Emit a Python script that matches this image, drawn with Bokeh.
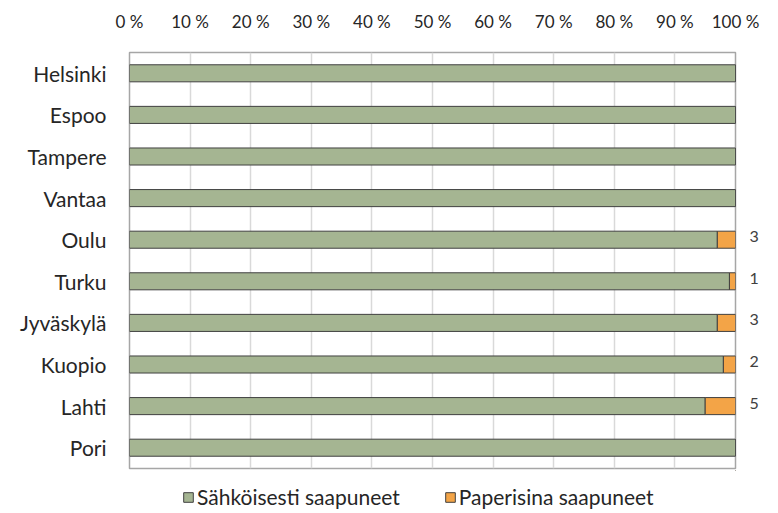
from bokeh.plotting import figure
from bokeh.layouts import column
from bokeh.models import (Range1d, FixedTicker, Legend, LegendItem,
                          ColumnDataSource, LinearAxis)
from bokeh.embed import file_html
from bokeh.resources import INLINE

cities = ["Helsinki", "Espoo", "Tampere", "Vantaa", "Oulu", "Turku", "Jyväskylä", "Kuopio", "Lahti", "Pori"]
electronic = [100, 100, 100, 100, 97, 99, 97, 98, 95, 100]
paper = [0, 0, 0, 0, 3, 1, 3, 2, 5, 0]
ticks = [0, 10, 20, 30, 40, 50, 60, 70, 80, 90, 100]
tick_labels = [f"{t} %" for t in ticks]
series_names = ["Sähköisesti saapuneet", "Paperisina saapuneet"]

GREEN = "#a5b592"
ORANGE = "#f3a447"
EDGE = "#404040"
TEXT = "#262626"
FONT = "Lato"

n = len(cities)
ypos = [n - i - 0.5 for i in range(n)]  # first city on top
src = ColumnDataSource(dict(y=ypos, city=cities, electronic=electronic, paper=paper,
                            total=[e + q for e, q in zip(electronic, paper)]))

p = figure(width=778, height=470, output_backend="svg", toolbar_location=None,
           y_range=Range1d(0, n), x_range=Range1d(0, 100), x_axis_location="above",
           y_axis_location="left",
           min_border_left=129, min_border_right=43, min_border_top=52, min_border_bottom=2)

r1 = p.hbar(y="y", left=0, right="electronic", height=0.41, source=src,
            fill_color=GREEN, line_color=EDGE, line_width=1)
r2 = p.hbar(y="y", left="electronic", right="total", height=0.41, source=src,
            fill_color=ORANGE, line_color=EDGE, line_width=1)

# category labels on the left axis
ax = p.yaxis[0]
ax.ticker = FixedTicker(ticks=ypos)
ax.major_label_overrides = {t: c for t, c in zip(ypos, cities)}
ax.axis_line_color = None
ax.major_tick_line_color = None
ax.minor_tick_line_color = None
ax.major_label_standoff = 17
ax.major_label_text_font = FONT
ax.major_label_text_font_size = "21px"
ax.major_label_text_color = TEXT

# data labels for the paper share on a right-hand axis
lab_pos = [round(y + 0.07, 2) for y, q in zip(ypos, paper) if q > 0]
lab_txt = [str(q) for q in paper if q > 0]
right_axis = LinearAxis(ticker=FixedTicker(ticks=lab_pos),
                        major_label_overrides={t: s for t, s in zip(lab_pos, lab_txt)},
                        axis_line_color=None, major_tick_line_color=None,
                        minor_tick_line_color=None, major_label_standoff=8,
                        major_label_text_font=FONT, major_label_text_font_size="16px",
                        major_label_text_color=EDGE)
p.add_layout(right_axis, "right")

p.xaxis.ticker = FixedTicker(ticks=ticks)
p.xaxis.major_label_overrides = {t: l for t, l in zip(ticks, tick_labels)}
p.xaxis.axis_line_color = None
p.xaxis.major_tick_line_color = None
p.xaxis.minor_tick_line_color = None
p.xaxis.major_label_standoff = 15
p.xaxis.major_label_text_font = FONT
p.xaxis.major_label_text_font_size = "17px"
p.xaxis.major_label_text_color = TEXT

p.xgrid.grid_line_color = "#d9d9d9"
p.xgrid.grid_line_width = 1.5
p.ygrid.grid_line_color = None
p.outline_line_color = "#a6a6a6"
p.outline_line_width = 1.5
p.background_fill_color = "white"
p.border_fill_color = "white"

# legend strip below the chart (its frame lines up with the chart's frame)
lg = figure(width=778, height=42, output_backend="svg", toolbar_location=None,
            x_range=Range1d(0, 1), y_range=Range1d(0, 1),
            min_border=0, outline_line_color=None)
lg.axis.visible = False
lg.grid.visible = False
# off-range swatch renderers: only their legend glyphs are visible
d1 = lg.hbar(y=[5], left=[5], right=[6], height=0.5, fill_color=GREEN, line_color=EDGE)
d2 = lg.hbar(y=[5], left=[5], right=[6], height=0.5, fill_color=ORANGE, line_color=EDGE)
legend = Legend(items=[LegendItem(label=series_names[0], renderers=[d1]),
                       LegendItem(label=series_names[1], renderers=[d2])],
                orientation="horizontal", location=(53, 3),
                label_text_font=FONT, label_text_font_size="21px", label_text_color=TEXT,
                glyph_width=12, glyph_height=12, label_standoff=3, spacing=44,
                border_line_color=None, background_fill_alpha=0, padding=0, margin=0)
lg.add_layout(legend, "center")

layout = column(p, lg, spacing=0)
open("out.html", "w").write(file_html(layout, INLINE))
